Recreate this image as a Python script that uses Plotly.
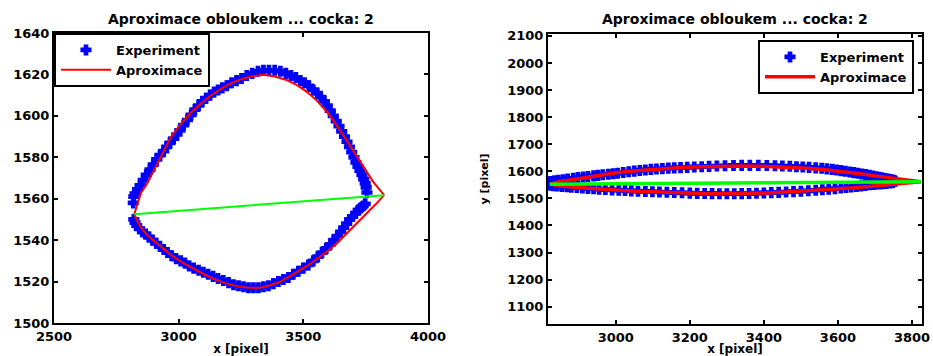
import plotly.graph_objects as go

# ---------------- data ----------------
exp_upper_x = [2818, 2820, 2825, 2835, 2845, 2858, 2870, 2885, 2898, 2912, 2925, 2940, 2952, 2965, 2980,
               2993, 3005, 3020, 3035, 3050, 3065, 3080, 3095, 3110, 3126, 3142, 3158, 3175, 3193, 3212,
               3232, 3252, 3273, 3295, 3318, 3340, 3362, 3385, 3408, 3430, 3450, 3470, 3488, 3505, 3522,
               3540, 3556, 3570, 3584, 3596, 3608, 3620, 3632, 3643, 3654, 3665, 3675, 3685, 3694, 3703,
               3711, 3719, 3727, 3735, 3742, 3748, 3752, 3755]
exp_upper_y = [1558, 1561, 1562.5, 1564.5, 1566.5, 1569, 1571.5, 1574, 1576.5, 1579, 1581, 1583, 1585, 1587, 1589,
               1591, 1593, 1595.5, 1598, 1600.5, 1603, 1605, 1607, 1608.5, 1610, 1611.5, 1612.5, 1613.5, 1614.5, 1616,
               1617, 1618, 1619.5, 1620.5, 1621.5, 1622, 1622, 1622, 1621.5, 1620.5, 1619.5, 1618.5, 1617, 1616, 1614.5,
               1612.5, 1611, 1609, 1607, 1605, 1602.5, 1600, 1597.5, 1595, 1592.5, 1590, 1587.5, 1585, 1582.5, 1580,
               1577.5, 1575.5, 1573.5, 1571.5, 1569.5, 1567.5, 1565.5, 1563]
exp_lower_x = [2820, 2825, 2832, 2842, 2855, 2868, 2880, 2895, 2910, 2925, 2940, 2955, 2972, 2990, 3008,
               3025, 3042, 3060, 3080, 3099, 3118, 3138, 3158, 3179, 3200, 3220, 3240, 3260, 3280, 3300,
               3320, 3340, 3360, 3380, 3400, 3420, 3440, 3460, 3480, 3500, 3520, 3540, 3558, 3575, 3592,
               3608, 3622, 3636, 3650, 3662, 3674, 3686, 3698, 3710, 3720, 3730, 3740, 3748]
exp_lower_y = [1550, 1548.5, 1547, 1545.5, 1544, 1543, 1541.5, 1540, 1538.5, 1537, 1535.5, 1534, 1532.5, 1531, 1530,
               1529, 1527.5, 1526.5, 1525.5, 1524.5, 1523.5, 1522.5, 1521.5, 1520.5, 1519.5, 1518.5, 1518, 1517.5, 1517, 1517,
               1517, 1517.5, 1518, 1519, 1520, 1521, 1522, 1523.5, 1525, 1526.5, 1528, 1530, 1532, 1534, 1536,
               1538, 1540, 1542, 1544, 1546, 1548, 1550, 1551.5, 1553, 1554.5, 1555.5, 1556.5, 1557.5]

arc_upper_x = [2822, 2830, 2840, 2850, 2872, 2900, 2938, 2970, 3005, 3045, 3085, 3125, 3166, 3206, 3246,
               3290, 3340, 3385, 3433, 3475, 3514, 3555, 3594, 3628, 3660, 3695, 3727, 3755, 3781, 3805, 3824]
arc_upper_y = [1552.5, 1556, 1559.5, 1563, 1567, 1573.5, 1582.7, 1590, 1595.5, 1601, 1605.5, 1609.5, 1612.8, 1615.5, 1617.5,
               1619, 1619.8, 1619, 1617.3, 1614.8, 1611.6, 1607.3, 1602, 1596.5, 1590.7, 1584, 1577.8, 1572.5, 1568, 1564.5, 1561.7]
arc_lower_x = [2822, 2835, 2850, 2870, 2898, 2938, 2978, 3018, 3059, 3105, 3153, 3193, 3233, 3280, 3326,
               3366, 3406, 3447, 3487, 3527, 3567, 3600, 3634, 3667, 3700, 3728, 3754, 3790, 3824]
arc_lower_y = [1552.5, 1549, 1546, 1543, 1540, 1535.8, 1532, 1529, 1526.3, 1523.3, 1520.7, 1519, 1517.8, 1517, 1517,
               1518.2, 1519.8, 1522.5, 1525.5, 1528.5, 1532, 1535, 1538.4, 1542.3, 1546.4, 1549.7, 1552.9, 1557.3, 1561.7]

chord_x = [2822, 3824]
chord_y = [1552.5, 1561.7]

title_text = "Aproximace obloukem ... cocka: 2"
left_xticks = [2500, 3000, 3500, 4000]
left_yticks = [1500, 1520, 1540, 1560, 1580, 1600, 1620, 1640]
right_xticks = [3000, 3200, 3400, 3600, 3800]
right_yticks = [1100, 1200, 1300, 1400, 1500, 1600, 1700, 1800, 1900, 2000, 2100]

# ---------------- figure ----------------
FONT = "DejaVu Sans"
W, H = 933, 356

exp_x = exp_upper_x + [None] + exp_lower_x
exp_y = exp_upper_y + [None] + exp_lower_y
arc_x = arc_upper_x + [None] + arc_lower_x
arc_y = arc_upper_y + [None] + arc_lower_y

fig = go.Figure()
for ax, lg, lw in (("", "legend", 2), ("2", "legend2", 3.5)):
    fig.add_trace(go.Scatter(x=exp_x, y=exp_y, mode="markers", name="Experiment",
                             marker=dict(symbol="cross", size=8, color="#0000ff",
                                         line=dict(width=1.5, color="#0000ff")),
                             xaxis="x" + ax, yaxis="y" + ax, legend=lg))
    fig.add_trace(go.Scatter(x=arc_x, y=arc_y, mode="lines", name="Aproximace",
                             line=dict(color="#ff0000", width=lw),
                             xaxis="x" + ax, yaxis="y" + ax, legend=lg))
    fig.add_trace(go.Scatter(x=chord_x, y=chord_y, mode="lines", showlegend=False,
                             line=dict(color="#00ff00", width=lw),
                             xaxis="x" + ax, yaxis="y" + ax))

tickfont = dict(family=FONT, size=13, color="black", weight="bold")
common = dict(showline=True, linecolor="black", linewidth=2, mirror="ticks", ticks="inside",
              ticklen=4, tickwidth=2, tickcolor="black", showgrid=False, zeroline=False,
              tickfont=tickfont, automargin=False, tickmode="array")
legfont = dict(family=FONT, size=13, color="black", weight="bold")

fig.update_layout(
    width=W, height=H, margin=dict(l=0, r=0, t=0, b=0),
    paper_bgcolor="white", plot_bgcolor="white",
    font=dict(family=FONT, color="black"),
    xaxis=dict(domain=[54 / W, 428 / W], range=[2500, 4000], tickvals=left_xticks, anchor="y",
               title=dict(text="x [pixel]", font=dict(family=FONT, size=12, color="black", weight="bold"), standoff=2),
               **common),
    yaxis=dict(domain=[1 - 323 / H, 1 - 33 / H], range=[1500, 1640], tickvals=left_yticks, anchor="x",
               **common),
    xaxis2=dict(domain=[548 / W, 922 / W], range=[2817, 3827], tickvals=right_xticks, anchor="y2",
                title=dict(text="x [pixel]", font=dict(family=FONT, size=12, color="black", weight="bold"), standoff=2),
                **common),
    yaxis2=dict(domain=[1 - 324 / H, 1 - 34 / H], range=[1036, 2107], tickvals=right_yticks, anchor="x2",
                title=dict(text="y [pixel]", font=dict(family=FONT, size=11, color="black", weight="bold"), standoff=16),
                **common),
    legend=dict(x=54 / W, y=1 - 33 / H, xanchor="left", yanchor="top", bgcolor="white",
                bordercolor="black", borderwidth=2, itemwidth=50, tracegroupgap=0, font=legfont),
    legend2=dict(x=914 / W, y=1 - 40 / H, xanchor="right", yanchor="top", bgcolor="white",
                 bordercolor="black", borderwidth=2, itemwidth=50, tracegroupgap=0, font=legfont),
    annotations=[
        dict(text=title_text, x=241 / W, y=1 - 19 / H, xref="paper", yref="paper", showarrow=False,
             xanchor="center", yanchor="middle", font=dict(family=FONT, size=14, color="black", weight="bold")),
        dict(text=title_text, x=735 / W, y=1 - 19 / H, xref="paper", yref="paper", showarrow=False,
             xanchor="center", yanchor="middle", font=dict(family=FONT, size=14, color="black", weight="bold")),
    ],
)

fig.write_html("out.html")
